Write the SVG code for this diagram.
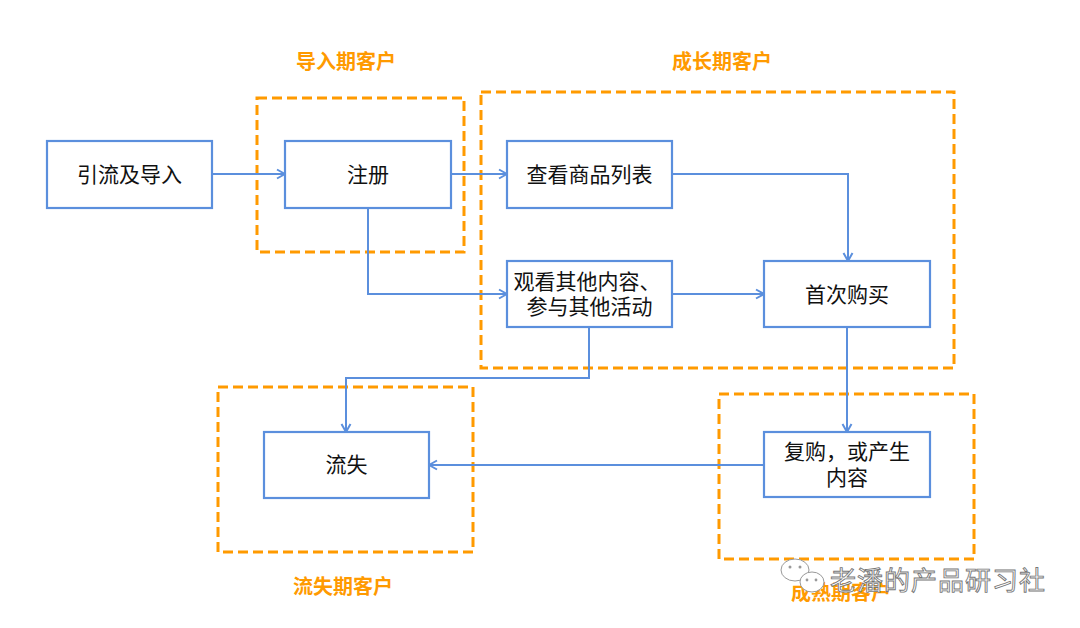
<svg xmlns="http://www.w3.org/2000/svg" width="1080" height="628" viewBox="0 0 1080 628">
<defs>
<style>
.node{fill:#fff;stroke:#5b8fdd;stroke-width:2.2}
.nt{font-family:"Noto Sans CJK SC","Noto Sans",sans-serif;font-size:21px;fill:#111;text-anchor:middle}
.zone{fill:none;stroke:#ff9a00;stroke-width:3;stroke-dasharray:10 5}
.zt{font-family:"Noto Sans CJK SC","Noto Sans",sans-serif;font-size:20px;font-weight:bold;fill:#ff9a00;text-anchor:middle}
.edge{fill:none;stroke:#5b8fdd;stroke-width:2}
.wm{font-family:"Noto Sans CJK SC",sans-serif;font-size:26px;fill:#fff;stroke:#777;stroke-width:0.9;letter-spacing:1px}
</style>
<marker id="arr" viewBox="0 0 12 12" refX="11" refY="6" markerWidth="12" markerHeight="12" markerUnits="userSpaceOnUse" orient="auto">
<polyline points="3,1.5 11,6 3,10.5" fill="none" stroke="#5b8fdd" stroke-width="2"/>
</marker>
</defs>
<rect width="1080" height="628" fill="#fff"/>

<g id="zones">
<rect class="zone" x="257" y="98" width="207" height="154"/>
<rect class="zone" x="481" y="92" width="473" height="276"/>
<rect class="zone" x="719" y="394" width="255" height="165"/>
<rect class="zone" x="218" y="387" width="255" height="165"/>
</g>

<g id="connectors">
<path class="edge" marker-end="url(#arr)" d="M212,174 H285"/>
<path class="edge" marker-end="url(#arr)" d="M451,174 H507"/>
<path class="edge" marker-end="url(#arr)" d="M368,208 V294 H507"/>
<path class="edge" marker-end="url(#arr)" d="M672,174 H848 V261"/>
<path class="edge" marker-end="url(#arr)" d="M672,294 H764"/>
<path class="edge" marker-end="url(#arr)" d="M589,327 V378 H346 V432"/>
<path class="edge" marker-end="url(#arr)" d="M847,327 V432"/>
<path class="edge" marker-end="url(#arr)" d="M764,465 H429"/>
</g>

<g id="n1"><rect class="node" x="47" y="141" width="165" height="67"/><text class="nt" x="129.5" y="182">引流及导入</text></g>
<g id="n2"><rect class="node" x="285" y="141" width="166" height="67"/><text class="nt" x="368" y="182">注册</text></g>
<g id="n3"><rect class="node" x="507" y="141" width="165" height="67"/><text class="nt" x="589.5" y="182">查看商品列表</text></g>
<g id="n4"><rect class="node" x="507" y="261" width="165" height="66"/><text class="nt" x="587" y="289">观看其他内容、</text><text class="nt" x="589.5" y="314">参与其他活动</text></g>
<g id="n5"><rect class="node" x="764" y="261" width="166" height="66"/><text class="nt" x="847" y="302">首次购买</text></g>
<g id="n6"><rect class="node" x="764" y="432" width="166" height="65"/><text class="nt" x="847" y="459">复购，或产生</text><text class="nt" x="847" y="485">内容</text></g>
<g id="n7"><rect class="node" x="264" y="432" width="165" height="66"/><text class="nt" x="346.5" y="472">流失</text></g>

<g id="zone-labels">
<text class="zt" x="346" y="69">导入期客户</text>
<text class="zt" x="722" y="69">成长期客户</text>
<text class="zt" x="343" y="594">流失期客户</text>
<text class="zt" x="841" y="600">成熟期客户</text>
</g>

<g id="watermark">
<ellipse cx="795" cy="570" rx="14" ry="11" fill="#fff" stroke="#999" stroke-width="1"/>
<circle cx="790" cy="567" r="1.5" fill="#999"/><circle cx="800" cy="567" r="1.5" fill="#999"/>
<ellipse cx="812" cy="582" rx="12" ry="10" fill="#fff" stroke="#999" stroke-width="1"/>
<circle cx="807" cy="580" r="1.4" fill="#999"/><circle cx="816" cy="580" r="1.4" fill="#999"/>
<text class="wm" x="830" y="590">老潘的产品研习社</text>
</g>
</svg>
